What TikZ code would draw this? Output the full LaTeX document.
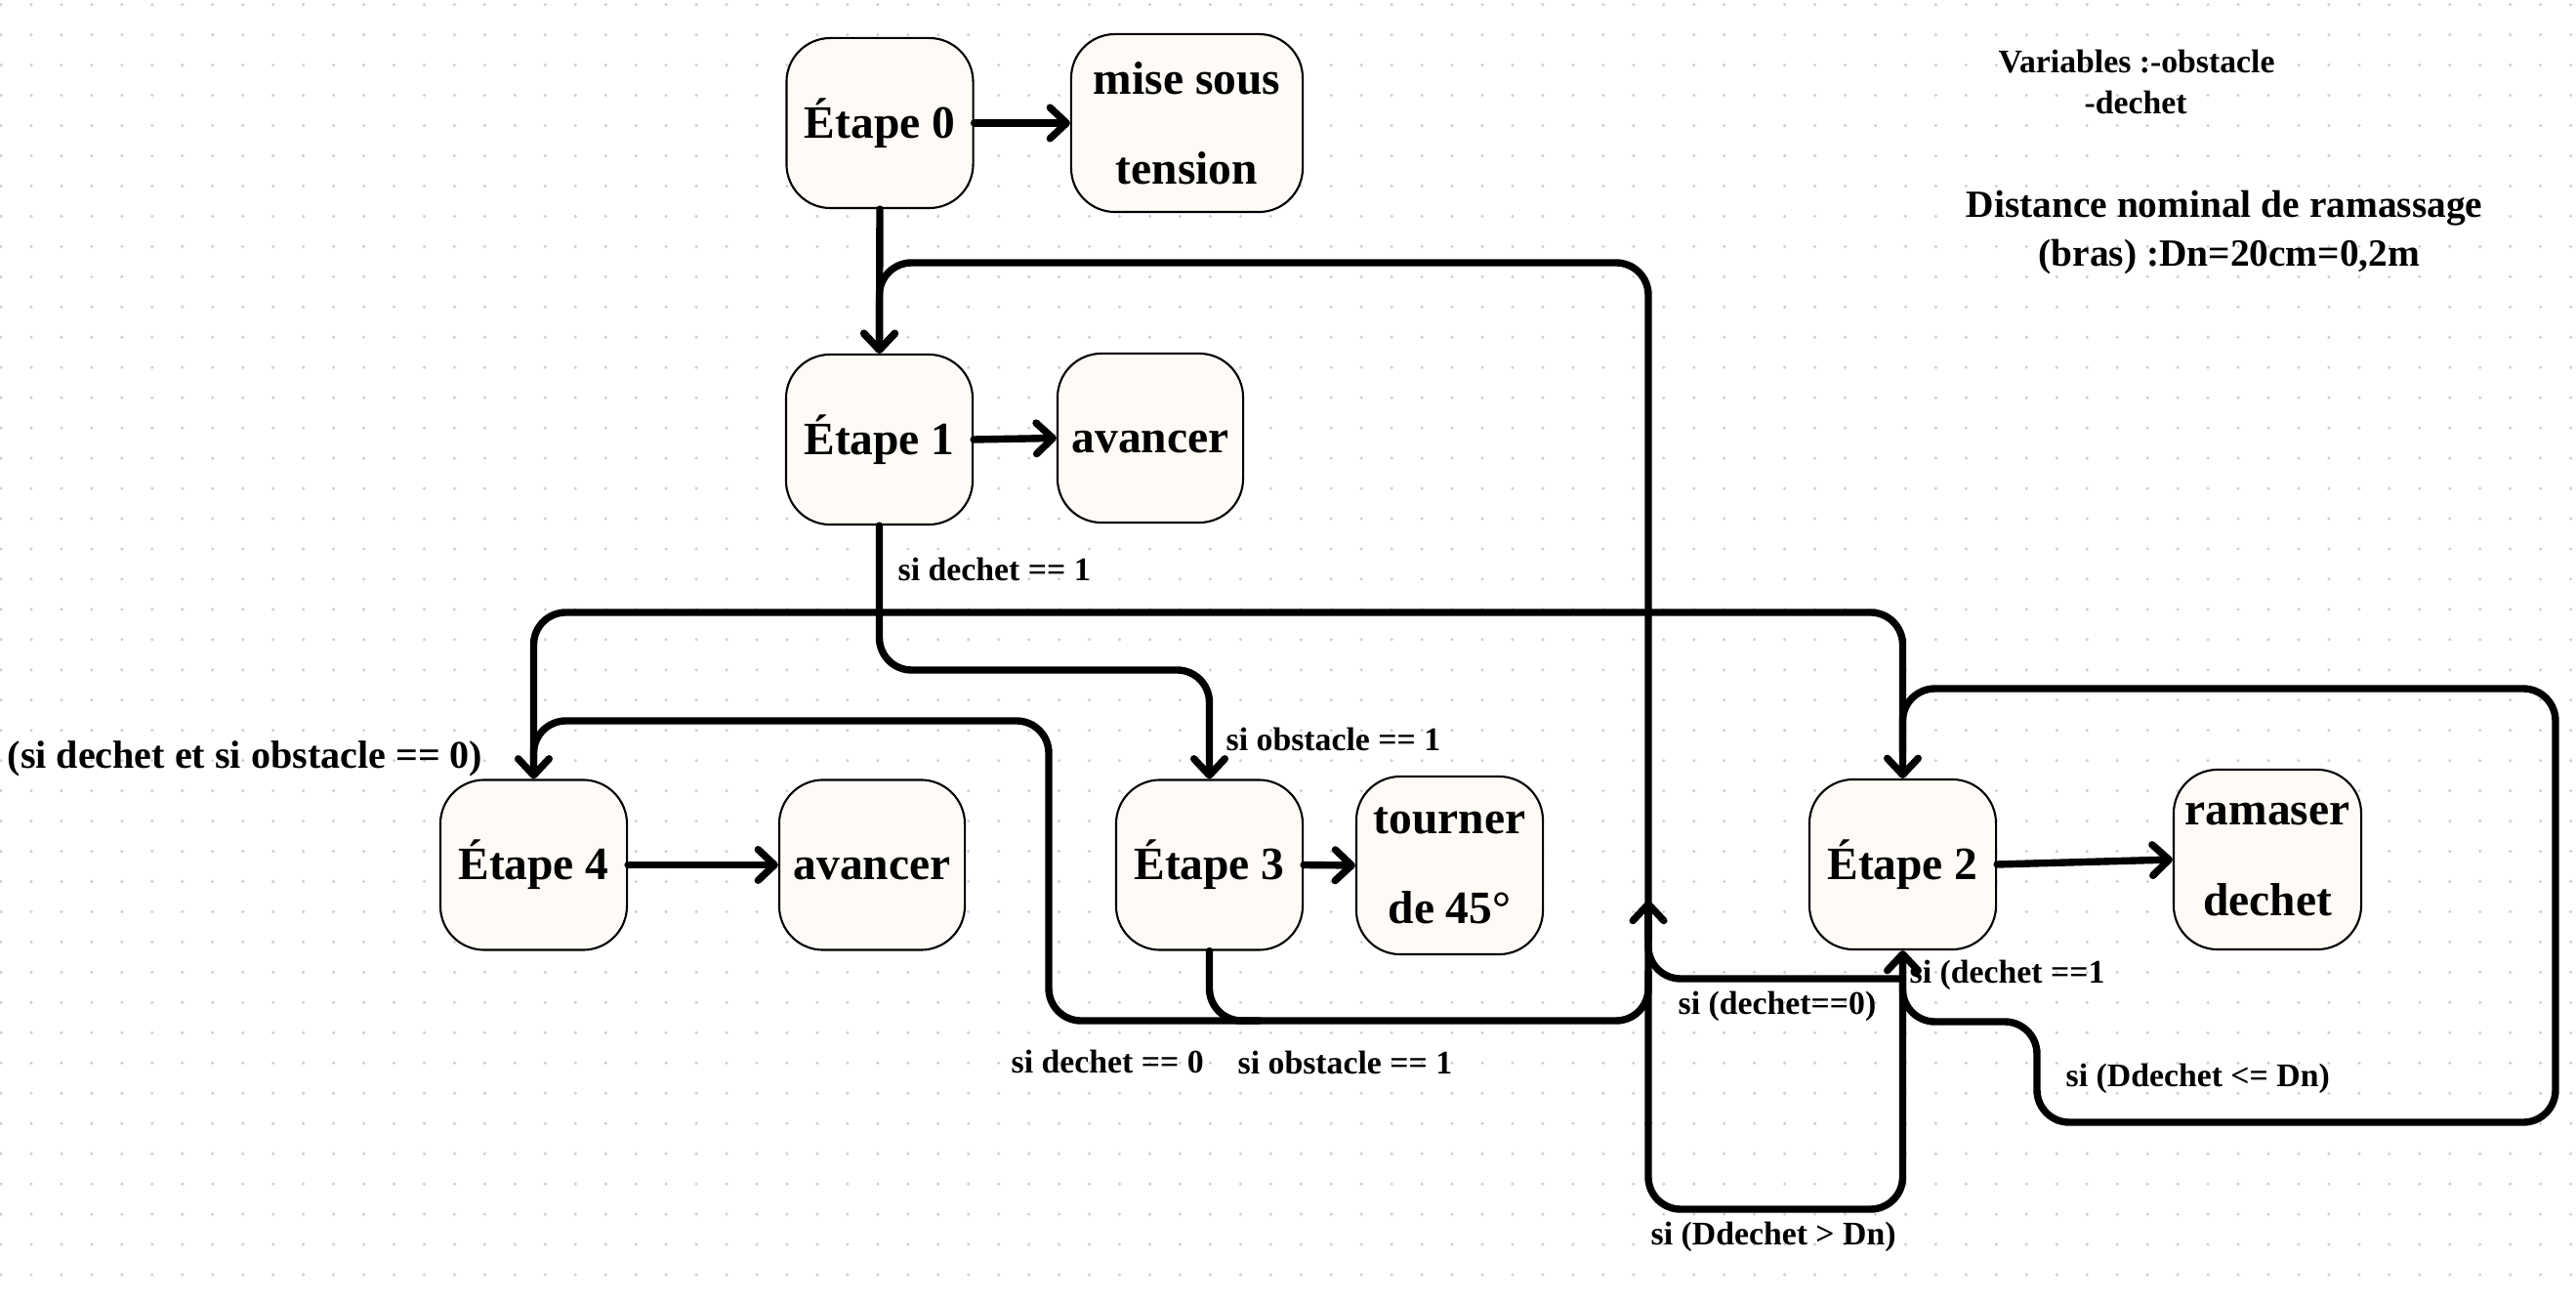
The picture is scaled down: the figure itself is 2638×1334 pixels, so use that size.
\documentclass[tikz,border=0pt]{standalone}
\usepackage{fontspec}
\setmainfont{Liberation Serif}
\usetikzlibrary{arrows.meta}
\definecolor{boxfill}{HTML}{FEFAF6}
\definecolor{dotc}{HTML}{C9CFD9}
\tikzset{
  mybarb/.tip={Straight Barb[length=4.8pt,width=9pt,round]},
}
\begin{document}
\begin{tikzpicture}[x=0.01cm,y=-0.01cm,
  stepbox/.style={draw=black, line width=0.6pt, fill=boxfill, rounded corners=0.45cm,
    minimum width=1.91cm, minimum height=1.74cm, inner sep=0pt, align=center,
    font=\fontsize{13.5}{26.2}\selectfont\bfseries},
  onebox/.style={stepbox, text height=11.3pt, text depth=2.7pt},
  conn/.style={line width=2.1pt, rounded corners=0.33cm, line cap=round},
  arr/.style={conn, -mybarb},
  lbl/.style={inner sep=0pt, anchor=west, font=\fontsize{9.6}{11}\selectfont\bfseries},
]
\useasboundingbox (0,0) rectangle (2638,1334);
\fill[white] (0,0) rectangle (2638,1334);
\foreach \i in {0,...,85} {
  \foreach \j in {0,...,42} {
    \fill[dotc] ({1+30.96*\i},{4.7+30.96*\j}) circle[radius=0.48pt];
  }
}

% boxes
\node[onebox] (E0) at (901,126) {Étape 0};
\node[stepbox, minimum width=2.37cm, minimum height=1.82cm] (mise) at (1215.5,126) {mise sous\\tension};
\node[onebox] (E1) at (900.5,450) {Étape 1};
\node[onebox, minimum width=1.90cm, minimum height=1.73cm] (av1) at (1178,448.5) {avancer};
\node[onebox] (E4) at (546.5,885.5) {Étape 4};
\node[onebox, minimum width=1.90cm] (av4) at (893,885.5) {avancer};
\node[onebox] (E3) at (1238.5,885.5) {Étape 3};
\node[stepbox, minimum height=1.82cm] (tour) at (1484.5,886) {tourner\\de 45°};
\node[stepbox, minimum width=1.92cm, minimum height=1.84cm] (ram) at (2322,880) {ramaser\\dechet};
\node[onebox] (E2) at (1948.5,885) {Étape 2};

% straight arrows
\draw[arr] (E0.east) -- (mise.west);
\draw[arr] (E0.south) -- (E1.north);
\draw[arr] (E1.east) -- (av1.west);
\draw[arr] (E4.east) -- (av4.west);
\draw[arr] (E3.east) -- (tour.west);
\draw[arr] (E2.east) -- (ram.west);

% routed connectors
\draw[arr] (E1.south) -- (900.5,686) -- (1238.5,686) -- (E3.north);
\draw[conn, mybarb-mybarb] (E4.north) -- (546.5,627) -- (1948.5,627) -- (E2.north);
\draw[conn] (546.5,785) -- (546.5,738) -- (1074,738) -- (1074,1045) -- (1688,1045) -- (1688,995);
\draw[conn] (E3.south) -- (1238.5,1045) -- (1290,1045);
\draw[arr] (1688,1150) -- (1688,1238) -- (1948.5,1238) -- (E2.south);
\draw[arr] (1688,1150) -- (1688,269) -- (900.5,269) -- (E1.north);
\draw[arr] (1688,960) -- (1688,922);
\draw[conn] (1948.5,1002) -- (1688,1002) -- (1688,955);
\draw[conn] (1948.5,985) -- (1948.5,1046) -- (2086,1046) -- (2086,1149) -- (2617,1149) -- (2617,705) -- (1948.5,705) -- (1948.5,770);

% labels
\node[lbl] (l1) at (919,583) {si dechet == 1};
\node[lbl] (l2) at (1255,757) {si obstacle == 1};
\node[lbl, font=\fontsize{11.4}{13}\selectfont\bfseries] (l3) at (7,777) {(si dechet et si obstacle == 0)};
\node[lbl] (l4) at (1035,1087) {si dechet == 0};
\node[lbl] (l5) at (1267,1088) {si obstacle == 1};
\node[lbl] (l6) at (1718,1030) {si (dechet==0)};
\node[lbl] (l7) at (1955,998) {si (dechet ==1};
\node[lbl] (l8) at (2115,1104) {si (Ddechet <= Dn)};
\node[lbl] (l9) at (1690,1266) {si (Ddechet > Dn)};

\node[lbl] (v1) at (2046,63) {Variables :-obstacle};
\node[lbl] (v2) at (2134,105) {-dechet};
\node[inner sep=0pt, font=\fontsize{11.2}{13}\selectfont\bfseries] (d1) at (2278,213) {Distance nominal de ramassage};
\node[inner sep=0pt, font=\fontsize{11.2}{13}\selectfont\bfseries] (d2) at (2283,263) {(bras) :Dn=20cm=0,2m};
\end{tikzpicture}
\end{document}
